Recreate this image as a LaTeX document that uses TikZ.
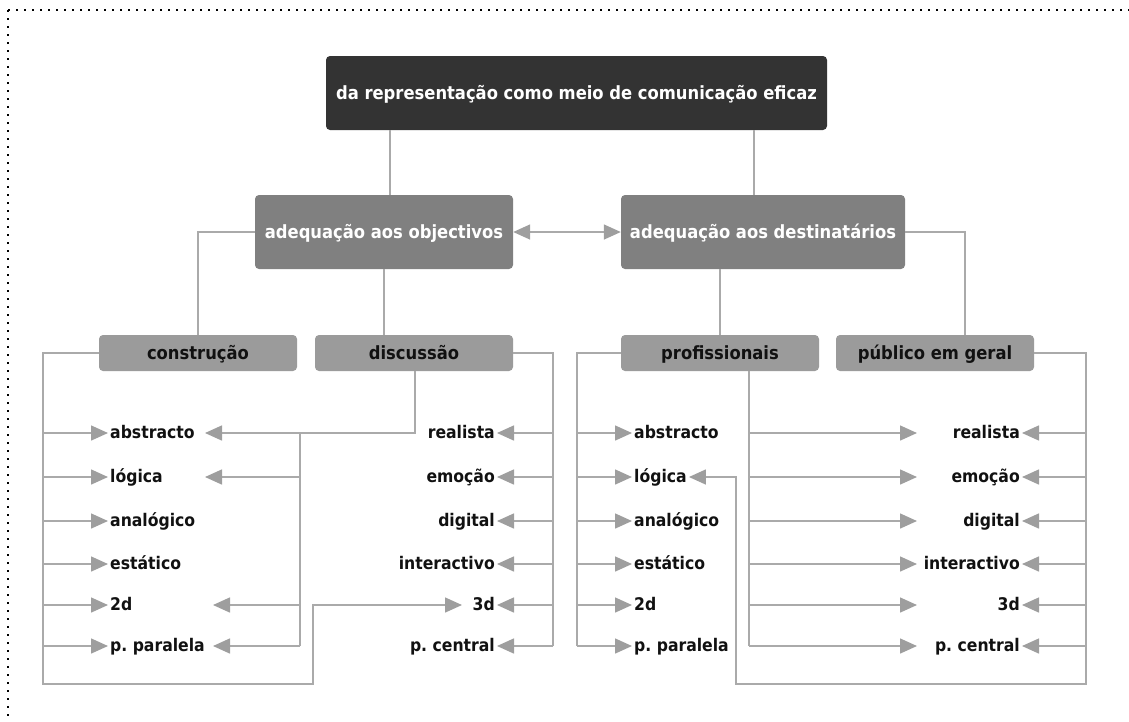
\documentclass[tikz,border=0pt]{standalone}
\usepackage{fontspec}
\setmainfont{DejaVu Sans Condensed}
\usetikzlibrary{arrows.meta}

\definecolor{rootfill}{HTML}{333333}
\definecolor{mainfill}{HTML}{808080}
\definecolor{subfill}{HTML}{9B9B9B}
\definecolor{wiregrey}{HTML}{AAAAAA}
\definecolor{tipgrey}{HTML}{9E9E9E}
\definecolor{ink}{HTML}{111111}

\tikzset{gtri/.tip={Triangle[length=17pt,width=15pt,fill=tipgrey,color=tipgrey]}}

\begin{document}
\begin{tikzpicture}[x=1pt,y=-1pt,
  boxfont/.style={font=\fontsize{18.2}{21}\selectfont\bfseries\frenchspacing},
  leaffont/.style={font=\fontsize{17.4}{20}\selectfont\bfseries\frenchspacing},
  box/.style={rectangle, rounded corners=4pt, inner sep=0pt, boxfont,
    text height=13.5pt, text depth=0pt},
  rootbox/.style={box, fill=rootfill, text=white, minimum width=501pt, minimum height=74pt},
  mainbox/.style={box, fill=mainfill, text=white, minimum height=74pt},
  subbox/.style={box, fill=subfill, text=ink, minimum width=198pt, minimum height=36pt},
  leaf/.style={inner sep=0pt, inner xsep=2pt, text=ink, leaffont,
    text height=10pt, text depth=0pt},
  wire/.style={draw=wiregrey, line width=1.5pt},
  arr/.style={wire, -{gtri}},
  biarr/.style={wire, {gtri}-{gtri}}
]
\useasboundingbox (0,0) rectangle (1129,721);

% dotted frame
\draw[line width=2pt, dash pattern=on 2pt off 6pt] (8,10) -- (8,740);
\draw[line width=2pt, dash pattern=on 2pt off 6pt] (8,10) -- (1140,10);

% boxes
\node[rootbox] (root) at (576.5,93) {da representação como meio de comunicação eficaz};
\node[mainbox, minimum width=258pt] (obj) at (384,232) {adequação aos objectivos};
\node[mainbox, minimum width=284pt] (dst) at (763,232) {adequação aos destinatários};
\node[subbox] (con) at (198,353) {construção};
\node[subbox] (dis) at (414,353) {discussão};
\node[subbox] (pro) at (720,353) {profissionais};
\node[subbox] (pub) at (935,353) {público em geral};

% leaves
\foreach \n/\t/\y in {1/abstracto/433, 2/lógica/477, 3/analógico/521,
                      4/estático/564, 5/2d/605, 6/p. paralela/646} {
  \node[leaf, anchor=west] (la\n) at (108,\y) {\t};
  \node[leaf, anchor=west] (ra\n) at (632,\y) {\t};
}
\foreach \n/\t/\y in {1/realista/433, 2/emoção/477, 3/digital/521,
                      4/interactivo/564, 5/3d/605, 6/p. central/646} {
  \node[leaf, anchor=east] (lb\n) at (497,\y) {\t};
  \node[leaf, anchor=east] (rb\n) at (1022,\y) {\t};
  \coordinate (pt\n) at (917,\y);
}

% helper points
\coordinate (cl) at (43,684);
\coordinate (cm) at (313,684);
\coordinate (t3d) at (462,605);
\coordinate (dv) at (415,433);
\coordinate (dj) at (300,646);
\coordinate (da1) at (205,433);
\coordinate (da2) at (205,477);
\coordinate (da5) at (213,605);
\coordinate (da6) at (213,646);
\coordinate (dr) at (553,646);
\coordinate (pl) at (577,646);
\coordinate (pm) at (749,646);
\coordinate (pr) at (1086,684);
\coordinate (pj) at (736,684);

% root to main topics
\draw[wire] ([xshift=6pt]obj.north) -- ([xshift=6pt]obj.north |- root.south);
\draw[wire] ([xshift=-9pt]dst.north) -- ([xshift=-9pt]dst.north |- root.south);
\draw[biarr] (obj.east) -- (dst.west);

% main topics to subtopics
\draw[wire] (obj.west) -| (con.north);
\draw[wire] (obj.south) -- (obj.south |- dis.north);
\draw[wire] (pro.north |- dst.south) -- (pro.north);
\draw[wire] (dst.east) -| ([xshift=30pt]pub.north);

% construção
\draw[arr] (con.west) -| (cl) -- (cm) |- (t3d);
\foreach \n in {1,...,6} \draw[arr] (cl |- la\n) -- (la\n.west);

% discussão
\draw[arr] (dv |- dis.south) -- (dv) -- (da1);
\draw[wire] (dj |- da1) -- (dj);
\draw[arr] (dj |- da2) -- (da2);
\draw[arr] (dj |- da5) -- (da5);
\draw[arr] (dj) -- (da6);
\draw[wire] (dis.east) -| (dr);
\foreach \n in {1,...,6} \draw[arr] (dr |- lb\n) -- (lb\n.east);

% profissionais
\draw[wire] (pro.west) -| (pl);
\foreach \n in {1,...,6} \draw[arr] (pl |- ra\n) -- (ra\n.west);
\draw[wire] (pm |- pro.south) -- (pm);
\foreach \n in {1,...,6} \draw[arr] (pm |- pt\n) -- (pt\n);

% público em geral
\draw[arr] (pub.east) -| (pr) -- (pj) |- (ra2.east);
\foreach \n in {1,...,6} \draw[arr] (pr |- rb\n) -- (rb\n.east);
\end{tikzpicture}
\end{document}
